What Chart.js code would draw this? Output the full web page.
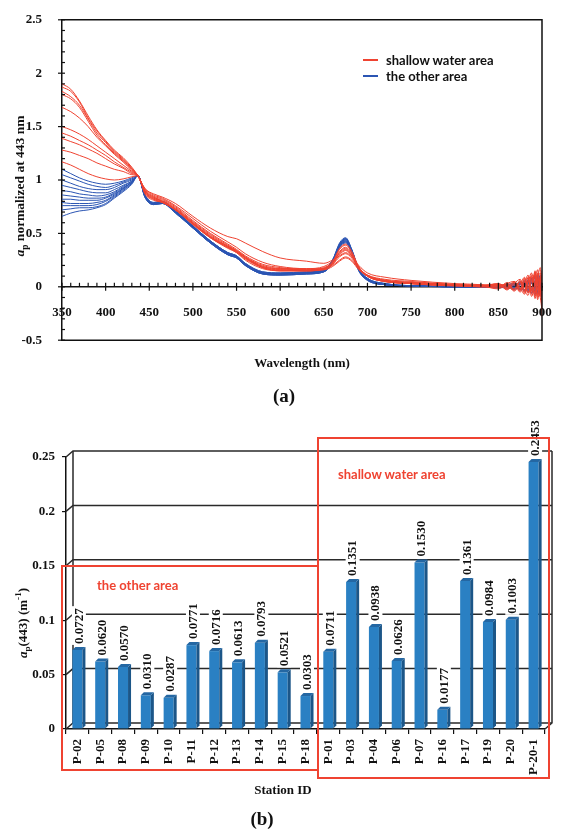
<!DOCTYPE html>
<html><head><meta charset="utf-8">
<script src="https://cdn.jsdelivr.net/npm/chart.js@4.4.1/dist/chart.umd.min.js"></script>
<style>
html,body{margin:0;padding:0;background:#fff;width:568px;height:837px;overflow:hidden;position:relative;}
canvas{position:absolute;left:0;}
#c1{top:0;}
#c2{top:420px;}
.t{position:absolute;font-family:"Liberation Serif",serif;font-weight:bold;color:#111;white-space:nowrap;transform:translate(-50%,-50%);line-height:1;}
.r{transform:translate(-50%,-50%) rotate(-90deg);}
.s{position:absolute;font-family:Lato,sans-serif;font-weight:bold;font-size:13px;white-space:nowrap;line-height:1;transform:translateY(-50%);}
.box{position:absolute;border:2px solid #ef4331;box-sizing:border-box;}
.lg{position:absolute;width:15px;height:2px;}
sub,sup{font-size:70%;line-height:0;}
</style></head>
<body>
<canvas id="c1" width="568" height="360"></canvas>
<canvas id="c2" width="568" height="417"></canvas>

<div class="t r" style="left:20px;top:186px;font-size:13.5px;"><i>a</i><sub>p</sub> normalized at 443 nm</div>
<div class="t" style="left:302px;top:362px;font-size:13px;">Wavelength (nm)</div>
<div class="t" style="left:284px;top:395px;font-size:19px;">(a)</div>
<div class="lg" style="left:363px;top:59px;background:#ef4331;"></div>
<div class="s" style="left:386px;top:60px;color:#111;">shallow water area</div>
<div class="lg" style="left:363px;top:75px;background:#2b55b3;"></div>
<div class="s" style="left:386px;top:76px;color:#111;">the other area</div>

<div class="t r" style="left:22px;top:623px;font-size:13px;"><i>a</i><sub>p</sub>(443) (m<sup>-1</sup>)</div>
<div class="t" style="left:283px;top:789px;font-size:13px;">Station ID</div>
<div class="t" style="left:262px;top:818px;font-size:19px;">(b)</div>
<div class="box" style="left:61px;top:565px;width:258px;height:206px;"></div>
<div class="box" style="left:317px;top:437px;width:233px;height:342px;"></div>
<div class="s" style="left:97px;top:585px;color:#ef4331;">the other area</div>
<div class="s" style="left:338px;top:474px;color:#ef4331;">shallow water area</div>

<script>
// ---------- (a) spectra ----------
const wavelengths = [350,360,370,380,390,400,410,420,430,437,445,455,465,480,500,520,540,550,560,580,600,630,650,660,668,675,682,690,700,720,750,800,830,850,860,868,875,880,884,888,892,895,898,900];

const shallow01 = [1.90,1.85,1.74,1.60,1.47,1.37,1.28,1.21,1.12,1.04,0.92,0.86,0.83,0.76,0.64,0.52,0.42,0.37,0.31,0.23,0.19,0.17,0.17,0.20,0.25,0.28,0.25,0.17,0.11,0.07,0.05,0.02, 0.01,0.02,-0.01,0.04,-0.03,0.07,-0.02,0.10,-0.06,0.13,-0.04,0.05];
const shallow02 = [1.87,1.83,1.73,1.58,1.46,1.36,1.27,1.20,1.11,1.04,0.92,0.87,0.84,0.78,0.66,0.55,0.47,0.45,0.41,0.33,0.27,0.24,0.22,0.25,0.29,0.32,0.28,0.20,0.13,0.09,0.06,0.03, 0.02,0.00,0.03,-0.03,0.05,-0.05,0.09,-0.04,0.14,-0.08,0.10,-0.28];
const shallow03 = [1.83,1.78,1.70,1.57,1.44,1.35,1.26,1.19,1.10,1.04,0.91,0.85,0.82,0.75,0.62,0.50,0.40,0.35,0.29,0.21,0.18,0.16,0.16,0.19,0.24,0.27,0.24,0.16,0.10,0.06,0.04,0.02, 0.01,0.03,0.00,0.05,-0.02,0.03,0.11,-0.07,0.06,0.16,-0.06,0.02];
const shallow04 = [1.80,1.76,1.68,1.55,1.42,1.33,1.25,1.18,1.10,1.04,0.90,0.84,0.81,0.74,0.61,0.49,0.39,0.34,0.28,0.20,0.17,0.16,0.17,0.21,0.28,0.31,0.27,0.17,0.10,0.06,0.04,0.02, 0.00,-0.01,0.04,-0.02,0.06,-0.06,0.04,0.13,-0.09,0.08,0.18,-0.12];
const shallow05 = [1.68,1.64,1.58,1.50,1.40,1.32,1.24,1.17,1.09,1.04,0.90,0.84,0.80,0.73,0.60,0.48,0.38,0.33,0.27,0.19,0.16,0.15,0.16,0.21,0.30,0.34,0.29,0.18,0.10,0.06,0.03,0.02, 0.01,0.02,-0.02,0.03,0.07,-0.03,-0.08,0.06,0.11,-0.10,0.07,0.04];
const shallow06 = [1.50,1.47,1.43,1.38,1.32,1.26,1.20,1.14,1.08,1.04,0.89,0.83,0.80,0.73,0.60,0.47,0.37,0.33,0.27,0.18,0.15,0.15,0.17,0.22,0.33,0.37,0.31,0.18,0.10,0.05,0.03,0.01, 0.02,0.01,0.02,-0.04,0.02,0.09,-0.05,-0.02,0.12,0.04,-0.09,0.15];
const shallow07 = [1.44,1.41,1.37,1.33,1.28,1.23,1.17,1.12,1.07,1.04,0.89,0.83,0.80,0.72,0.59,0.46,0.37,0.32,0.26,0.18,0.16,0.16,0.18,0.23,0.35,0.39,0.32,0.18,0.10,0.05,0.03,0.01, 0.00,0.03,-0.03,0.02,-0.05,0.05,0.08,-0.09,0.03,0.12,-0.03,-0.18];
const shallow08 = [1.39,1.36,1.33,1.29,1.25,1.20,1.15,1.11,1.06,1.04,0.88,0.82,0.79,0.72,0.59,0.47,0.38,0.34,0.28,0.19,0.17,0.17,0.19,0.24,0.31,0.35,0.29,0.18,0.11,0.06,0.04,0.02, 0.01,-0.02,0.03,0.05,-0.01,-0.07,0.06,0.09,-0.11,0.05,0.13,0.00];
const shallow09 = [1.28,1.26,1.23,1.20,1.16,1.13,1.10,1.08,1.05,1.04,0.88,0.82,0.79,0.72,0.58,0.46,0.37,0.33,0.27,0.18,0.15,0.15,0.17,0.22,0.32,0.36,0.30,0.18,0.10,0.05,0.03,0.01, 0.01,0.02,0.01,-0.03,0.04,0.02,-0.06,0.11,0.07,-0.12,0.04,0.10];
const shallow10 = [1.17,1.14,1.10,1.06,1.03,1.01,1.00,1.01,1.03,1.04,0.87,0.81,0.79,0.72,0.59,0.46,0.36,0.32,0.25,0.17,0.15,0.15,0.17,0.23,0.36,0.40,0.33,0.19,0.10,0.05,0.03,0.01, 0.00,0.01,-0.02,0.04,-0.04,0.08,0.02,-0.05,0.15,-0.02,-0.10,-0.22];

const other01 = [1.10,1.06,1.02,0.99,0.97,0.96,0.97,0.99,1.02,1.04,0.86,0.78,0.79,0.71,0.57,0.43,0.32,0.29,0.22,0.14,0.13,0.14,0.16,0.25,0.40,0.45,0.35,0.17,0.08,0.03,0.01,0.00, 0.00,0.01,-0.01,0.03,-0.02,0.05,-0.03,0.07,-0.04,0.09,-0.05,0.04];
const other02 = [1.05,1.02,0.99,0.96,0.94,0.93,0.95,0.98,1.01,1.04,0.85,0.78,0.79,0.70,0.56,0.42,0.31,0.28,0.21,0.13,0.12,0.13,0.15,0.24,0.39,0.44,0.34,0.16,0.07,0.03,0.01,0.00, 0.00,0.00,0.02,-0.02,0.03,-0.04,0.06,-0.02,0.09,-0.06,0.07,-0.10];
const other03 = [1.00,0.97,0.94,0.92,0.91,0.91,0.93,0.97,1.00,1.04,0.86,0.79,0.79,0.71,0.57,0.43,0.32,0.29,0.21,0.13,0.12,0.13,0.15,0.25,0.41,0.46,0.35,0.16,0.07,0.02,0.01,0.00, 0.00,0.02,-0.01,0.01,0.04,-0.03,0.02,0.08,-0.05,0.03,0.11,-0.04];
const other04 = [0.95,0.93,0.91,0.89,0.88,0.88,0.91,0.95,0.99,1.04,0.85,0.78,0.79,0.70,0.56,0.42,0.31,0.28,0.21,0.13,0.12,0.13,0.15,0.24,0.38,0.43,0.33,0.16,0.07,0.02,0.01,0.00, 0.00,-0.01,0.02,0.03,-0.03,0.04,-0.05,0.05,0.10,-0.07,0.02,0.06];
const other05 = [0.90,0.89,0.87,0.86,0.85,0.86,0.89,0.94,0.99,1.04,0.86,0.79,0.80,0.71,0.57,0.43,0.32,0.29,0.22,0.14,0.13,0.14,0.16,0.25,0.38,0.42,0.33,0.17,0.08,0.03,0.01,0.00, 0.00,0.01,0.00,-0.02,0.05,0.01,0.06,-0.06,0.03,0.08,-0.08,0.00];
const other06 = [0.86,0.85,0.84,0.83,0.83,0.84,0.88,0.93,0.98,1.04,0.85,0.78,0.79,0.70,0.56,0.42,0.31,0.28,0.21,0.13,0.12,0.13,0.15,0.24,0.37,0.41,0.32,0.16,0.07,0.02,0.01,0.00, 0.00,0.00,0.02,0.01,-0.03,0.06,-0.02,0.04,-0.08,0.11,0.03,-0.06];
const other07 = [0.82,0.82,0.81,0.81,0.81,0.83,0.87,0.92,0.98,1.04,0.84,0.77,0.78,0.70,0.55,0.41,0.30,0.27,0.20,0.12,0.11,0.12,0.14,0.23,0.39,0.44,0.34,0.16,0.07,0.02,0.01,0.00, 0.00,0.01,-0.02,0.02,0.02,-0.04,0.07,-0.04,0.06,-0.02,0.09,0.03];
const other08 = [0.79,0.78,0.78,0.78,0.79,0.81,0.86,0.92,0.98,1.04,0.85,0.78,0.79,0.70,0.56,0.42,0.31,0.28,0.21,0.13,0.12,0.13,0.15,0.24,0.40,0.45,0.34,0.16,0.07,0.02,0.01,0.00, 0.00,0.00,0.01,-0.01,0.04,0.02,-0.05,0.08,-0.02,0.05,-0.07,0.08];
const other09 = [0.76,0.76,0.76,0.76,0.77,0.80,0.85,0.91,0.97,1.04,0.84,0.77,0.78,0.69,0.55,0.41,0.30,0.27,0.20,0.12,0.11,0.12,0.14,0.23,0.37,0.42,0.32,0.15,0.06,0.02,0.01,0.00, 0.00,0.01,0.02,0.03,-0.02,-0.03,0.04,0.03,0.09,-0.05,0.06,-0.02];
const other10 = [0.72,0.73,0.74,0.74,0.75,0.78,0.84,0.90,0.97,1.04,0.85,0.78,0.79,0.70,0.56,0.42,0.31,0.28,0.21,0.13,0.12,0.13,0.15,0.24,0.38,0.43,0.33,0.16,0.07,0.02,0.01,0.00, 0.00,-0.01,0.00,0.02,0.03,0.05,-0.04,-0.03,0.05,0.07,-0.04,0.05];
const other11 = [0.66,0.69,0.71,0.72,0.74,0.77,0.83,0.89,0.96,1.04,0.84,0.77,0.78,0.69,0.55,0.41,0.30,0.27,0.20,0.12,0.11,0.12,0.14,0.23,0.39,0.45,0.34,0.15,0.06,0.02,0.01,0.00, 0.00,0.01,0.01,-0.03,0.02,0.03,0.05,-0.06,0.02,0.10,0.01,-0.08];

const shallowSpectra = [shallow01,shallow02,shallow03,shallow04,shallow05,shallow06,shallow07,shallow08,shallow09,shallow10];
const otherSpectra = [other01,other02,other03,other04,other05,other06,other07,other08,other09,other10,other11];

// ---------- (b) bars ----------
const stations = ['P-02','P-05','P-08','P-09','P-10','P-11','P-12','P-13','P-14','P-15','P-18','P-01','P-03','P-04','P-06','P-07','P-16','P-17','P-19','P-20','P-20-1'];
const ap443 = [0.0727,0.0620,0.0570,0.0310,0.0287,0.0771,0.0716,0.0613,0.0793,0.0521,0.0303,0.0711,0.1351,0.0938,0.0626,0.1530,0.0177,0.1361,0.0984,0.1003,0.2453];

const RED = '#ef4331', BLUE = '#2b55b3';
const serif = '"Liberation Serif", "DejaVu Serif", serif';
const tickFont = {family: serif, size: 13, weight: 'bold'};

function toPoints(arr){ return wavelengths.map((w,i)=>({x:w, y:arr[i]})); }
const lineDs = (arr, color) => ({data: toPoints(arr), borderColor: color, borderWidth: 1, pointRadius: 0, cubicInterpolationMode: 'monotone', fill: false});

const frameA = {
  id: 'frameA',
  afterDraw(chart){
    const {ctx, chartArea: a, scales: {x, y}} = chart;
    ctx.save();
    ctx.strokeStyle = '#111'; ctx.lineWidth = 1.5;
    ctx.beginPath();
    ctx.moveTo(a.left, a.top); ctx.lineTo(a.right, a.top); ctx.lineTo(a.right, a.bottom); ctx.lineTo(a.left, a.bottom);
    ctx.stroke();
    const y0 = y.getPixelForValue(0);
    ctx.lineWidth = 1.2;
    for (let w = x.min; w <= x.max; w += 10){
      const px = x.getPixelForValue(w), major = (w % 50 === 0);
      ctx.beginPath(); ctx.moveTo(px, y0 - 4); ctx.lineTo(px, major ? y0 + 4 : y0); ctx.stroke();
    }
    for (let k = -5; k <= 25; k++){
      const py = y.getPixelForValue(k / 10), major = (k % 5 === 0);
      ctx.beginPath(); ctx.moveTo(major ? a.left - 4 : a.left, py); ctx.lineTo(a.left + 3, py); ctx.stroke();
    }
    ctx.restore();
  }
};

const wall3d = {
  id: 'wall3d',
  beforeDatasetsDraw(chart){
    const {ctx, chartArea: a, scales: {y}} = chart;
    const dx = 7, dy = -6;
    ctx.save();
    ctx.strokeStyle = '#2a2a2a'; ctx.lineWidth = 1.5;
    y.ticks.forEach(t => {
      const py = y.getPixelForValue(t.value);
      ctx.beginPath(); ctx.moveTo(a.left, py); ctx.lineTo(a.left + dx, py + dy); ctx.lineTo(a.right + dx, py + dy); ctx.stroke();
    });
    const yt = y.getPixelForValue(y.max), yb = y.getPixelForValue(0);
    ctx.beginPath();
    ctx.moveTo(a.left + dx, yt + dy); ctx.lineTo(a.left + dx, yb + dy);
    ctx.moveTo(a.right + dx, yt + dy); ctx.lineTo(a.right + dx, yb + dy); ctx.lineTo(a.right, yb);
    ctx.stroke();
    ctx.restore();
  },
  afterDatasetsDraw(chart){
    const {ctx} = chart;
    const meta = chart.getDatasetMeta(0);
    const d = 3;
    ctx.save();
    meta.data.forEach((bar) => {
      const {x, y, base, width} = bar.getProps(['x','y','base','width'], true);
      const l = x - width / 2, r = x + width / 2;
      ctx.fillStyle = '#1c5688';
      ctx.beginPath(); ctx.moveTo(r, y); ctx.lineTo(r + d, y - d); ctx.lineTo(r + d, base - d); ctx.lineTo(r, base); ctx.closePath(); ctx.fill();
      ctx.fillStyle = '#2467a3';
      ctx.beginPath(); ctx.moveTo(l, y); ctx.lineTo(l + d, y - d); ctx.lineTo(r + d, y - d); ctx.lineTo(r, y); ctx.closePath(); ctx.fill();
    });
    ctx.font = 'bold 13px ' + serif;
    ctx.textBaseline = 'middle'; ctx.textAlign = 'left';
    meta.data.forEach((bar, i) => {
      const {x, y} = bar.getProps(['x','y'], true);
      const txt = ap443[i].toFixed(4);
      const w = ctx.measureText(txt).width;
      ctx.save();
      ctx.translate(x + 1.5, y - 6);
      ctx.rotate(-Math.PI / 2);
      ctx.fillStyle = '#fff'; ctx.fillRect(-1, -7, w + 3, 14);
      ctx.fillStyle = '#111'; ctx.fillText(txt, 0, 0.5);
      ctx.restore();
    });
    ctx.restore();
  }
};

function draw(){
  new Chart(document.getElementById('c1'), {
    type: 'line',
    data: {datasets: [...shallowSpectra.map(s => lineDs(s, RED)), ...otherSpectra.map(s => lineDs(s, BLUE))]},
    options: {
      responsive: false, animation: false,
      layout: {padding: {left: 0, right: 26, top: 16, bottom: 8}},
      plugins: {legend: {display: false}, tooltip: {enabled: false}},
      scales: {
        x: {type: 'linear', min: 350, max: 900, position: {y: 0},
            ticks: {stepSize: 50, font: tickFont, color: '#111', padding: 10, maxRotation: 0, autoSkip: false},
            grid: {display: false}, border: {display: true, color: '#111', width: 1.5}},
        y: {min: -0.5, max: 2.5,
            ticks: {stepSize: 0.5, font: tickFont, color: '#111', padding: 12, callback: v => String(v)},
            grid: {display: false}, border: {display: true, color: '#111', width: 1.5},
            afterFit(s){ s.width = 62; }}
      }
    },
    plugins: [frameA]
  });

  new Chart(document.getElementById('c2'), {
    type: 'bar',
    data: {labels: stations, datasets: [{data: ap443, backgroundColor: '#2a80c3', borderWidth: 0, barPercentage: 0.44, categoryPercentage: 1}]},
    options: {
      responsive: false, animation: false,
      layout: {padding: {left: 0, right: 23, top: 37, bottom: 58}},
      plugins: {legend: {display: false}, tooltip: {enabled: false}},
      scales: {
        x: {ticks: {font: tickFont, color: '#111', minRotation: 90, maxRotation: 90, autoSkip: false, padding: 5},
            grid: {display: true, drawOnChartArea: false, drawTicks: true, tickLength: 5, color: '#111', lineWidth: 1.2, offset: true},
            border: {display: true, color: '#111', width: 1.5},
            afterFit(s){ s.height = 50; }},
        y: {min: 0, max: 0.25,
            ticks: {stepSize: 0.05, font: tickFont, color: '#111', padding: 7, callback: v => String(+v.toFixed(2))},
            grid: {display: true, drawOnChartArea: false, drawTicks: true, tickLength: 4, color: '#111', lineWidth: 1.2},
            border: {display: true, color: '#111', width: 1.5},
            afterFit(s){ s.width = 66; }}
      }
    },
    plugins: [wall3d]
  });
}

if (document.fonts && document.fonts.load) {
  Promise.all([
    document.fonts.load('bold 13px "Liberation Serif"'),
    document.fonts.load('bold 13px Lato')
  ]).then(draw, draw);
} else { draw(); }
</script>
</body></html>
